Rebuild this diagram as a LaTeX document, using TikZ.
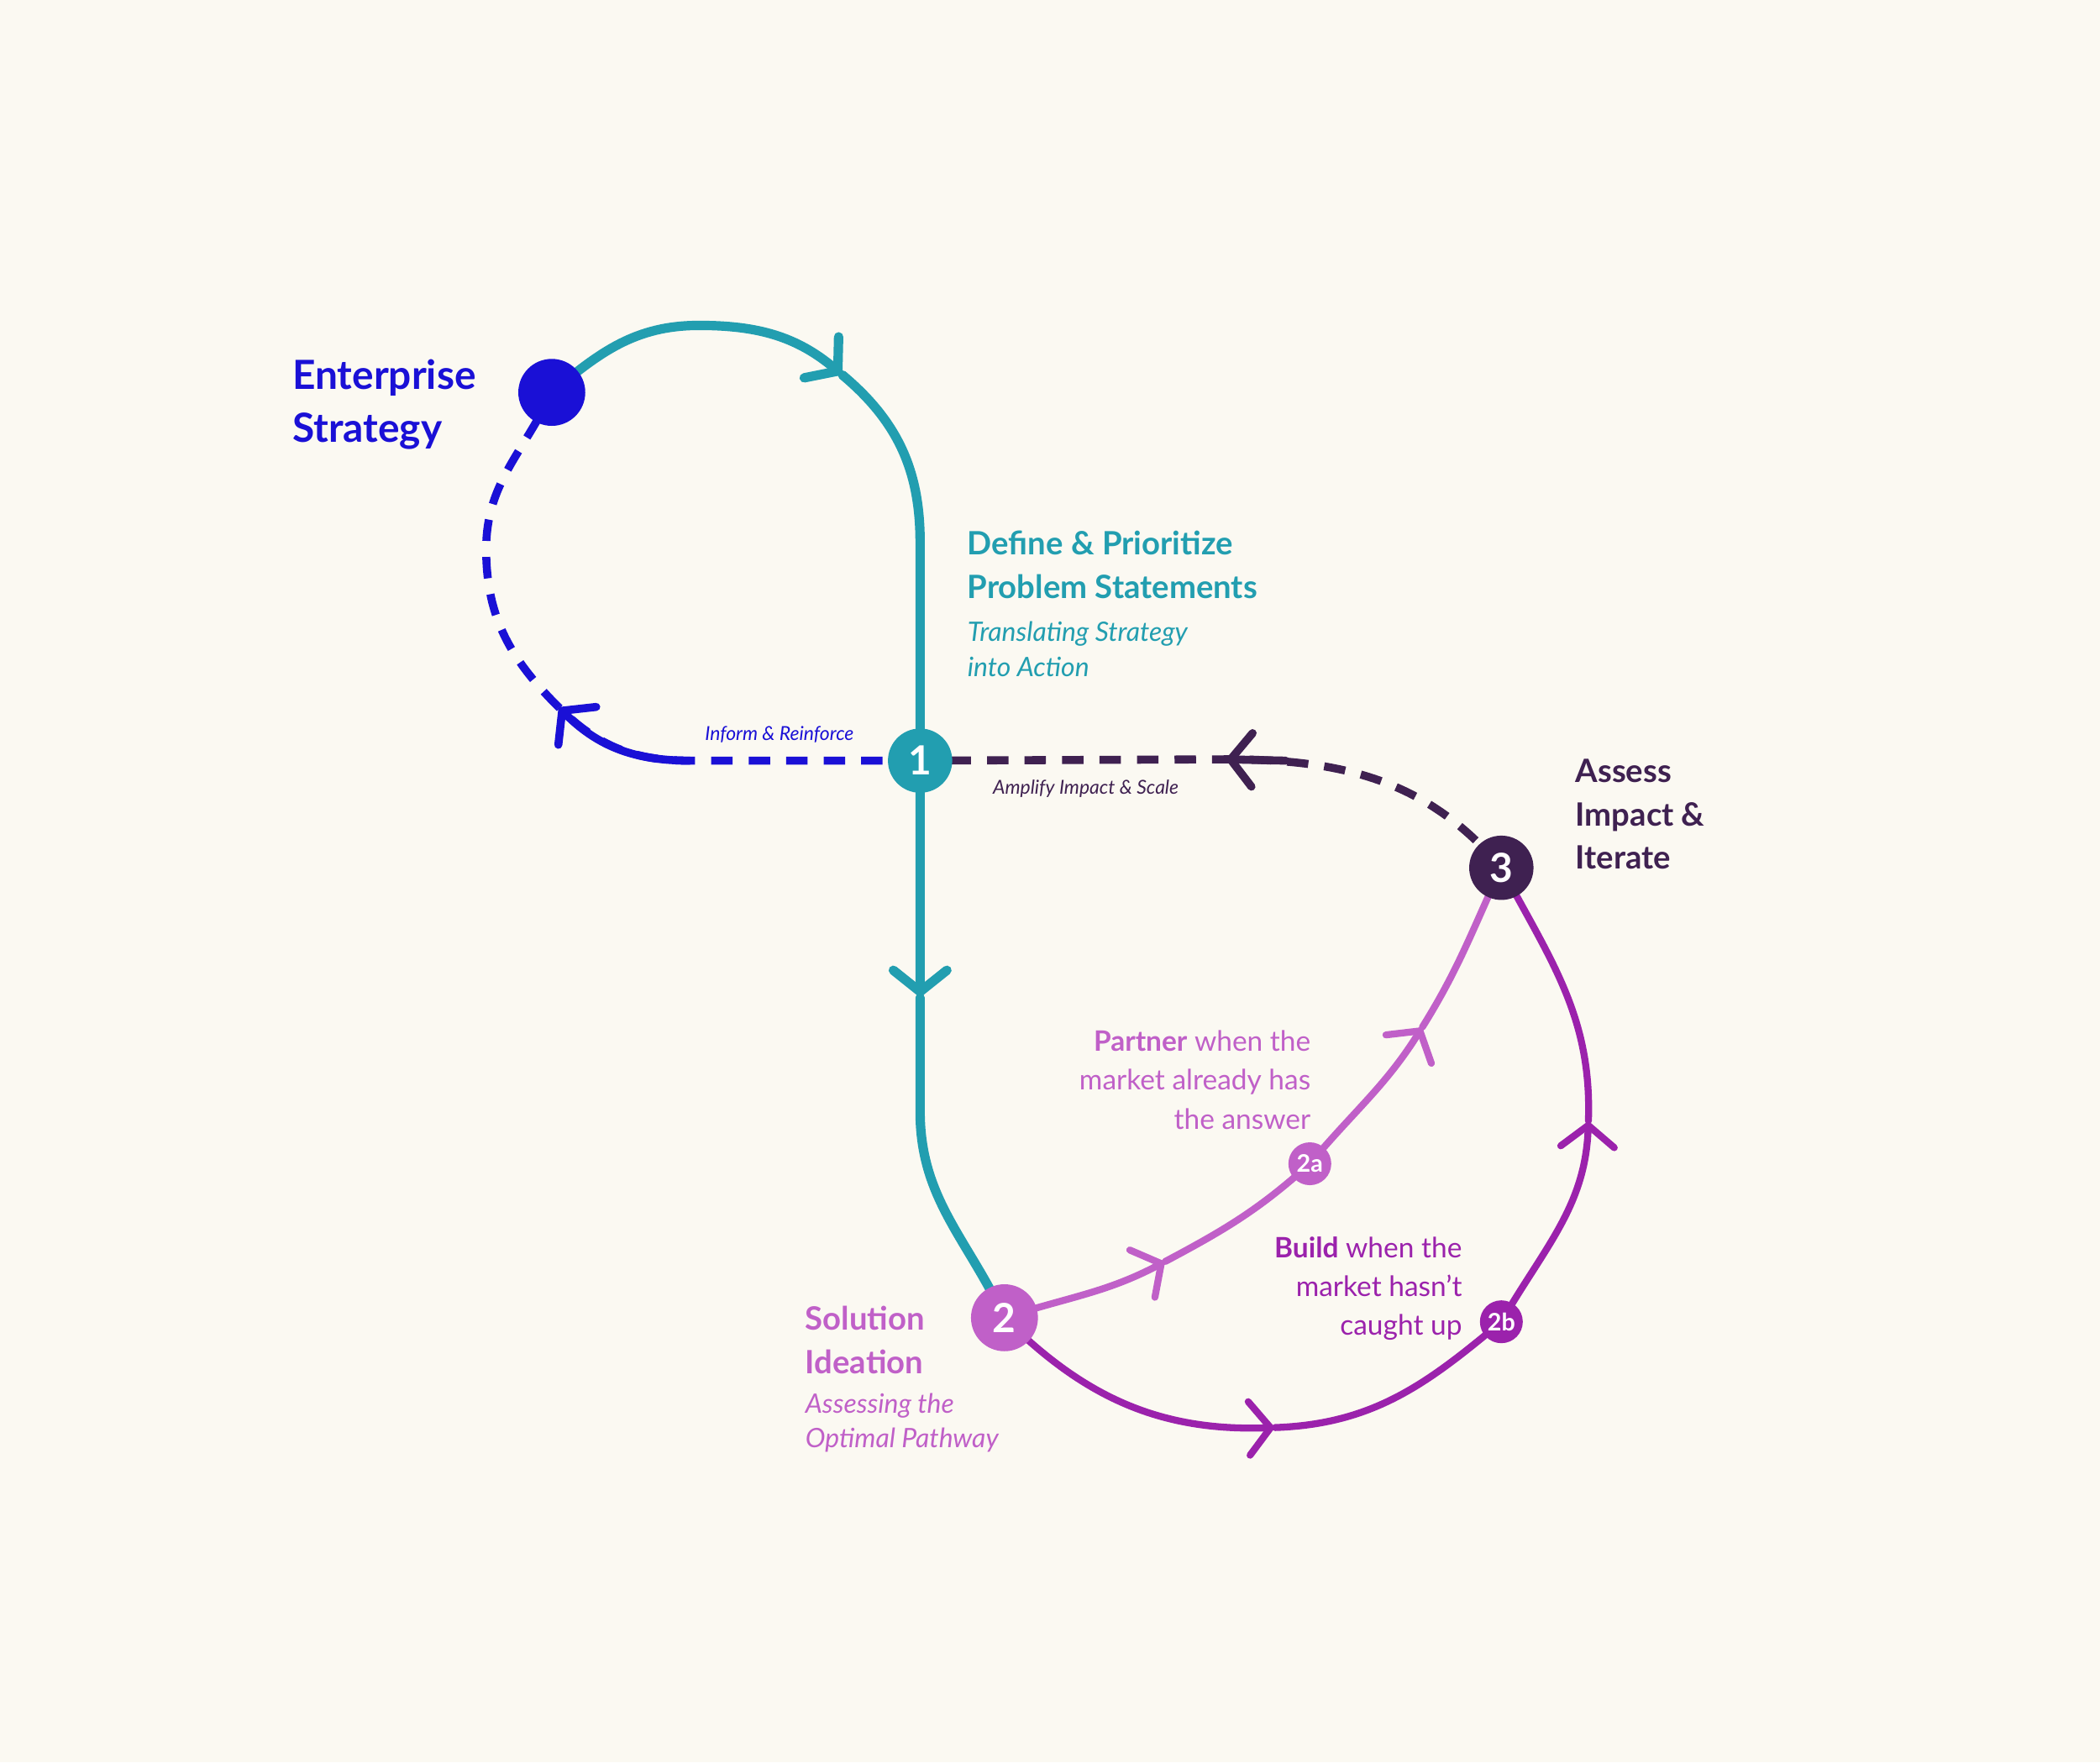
\documentclass[tikz,border=0pt]{standalone}
\usepackage{fontspec}
\setmainfont{Lato}
\usetikzlibrary{arrows.meta}
\definecolor{bg}{HTML}{FBF9F2}
\definecolor{teal}{HTML}{229EB0}
\definecolor{eblue}{HTML}{1A10D6}
\definecolor{dark}{HTML}{3F2151}
\definecolor{lpur}{HTML}{C060C8}
\definecolor{mag}{HTML}{9B22AC}
\tikzset{
  dot/.style={circle,inner sep=0pt,text=white,font=\bfseries},
  chev/.style={-{Straight Barb[length=8pt,width=20pt,line cap=round]}},
  tl/.style={inner sep=0pt}
}
\begin{document}
\begin{tikzpicture}[x=0.5pt,y=0.5pt,line cap=round]
\fill[bg] (0,0) rectangle (1568,-1316);
\useasboundingbox (0,0) rectangle (1568,-1316);
\coordinate (es0) at (412,-293);
\coordinate (n10) at (687,-568);
\coordinate (n20) at (750,-984);
\coordinate (n30) at (1121,-648);
\coordinate (a1) at (629,-280);
\coordinate (a2) at (687,-745);
\coordinate (a3) at (417,-528);
\coordinate (a4) at (915,-567);
\coordinate (a5) at (870,-942);
\coordinate (a6) at (1062,-767);
\coordinate (a7) at (952,-1066);
\coordinate (a8) at (1186,-837);
\coordinate (t1) at (687,-405);
\coordinate (t2) at (687,-830);
\coordinate (c1) at (515,-568);
\coordinate (c2) at (363,-410);
% teal
\begin{scope}[teal,line width=3.5pt]
\draw[chev] (es0) to[out=40,in=180] (522,-243) to[out=0,in=140] (a1);
\draw[chev] (a1) to[out=-40,in=90] (t1) -- (a2);
\draw (a2) -- (t2) to[out=-90,in=115] (n20);
\end{scope}
% blue dashed
\begin{scope}[eblue,line width=3pt]
\draw[dash pattern=on 8pt off 6pt,line cap=butt] (n10) -- (c1) to[out=180,in=-45] (a3);
\draw[chev] (c1) to[out=180,in=-45] (a3);
\draw[dash pattern=on 8pt off 6pt,line cap=butt] (a3) to[out=135,in=270] (c2) to[out=90,in=-115] (es0);
\end{scope}
% dark dashed
\begin{scope}[dark,line width=3pt]
\draw[dash pattern=on 8pt off 6pt,line cap=butt] (n30) to[out=130,in=0] (a4) -- (n10);
\draw[chev] (960,-568) -- (a4);
\end{scope}
% light purple
\begin{scope}[lpur,line width=2.6pt]
\draw[chev] (n20) to[out=18,in=208] (a5);
\draw (a5) to[out=28,in=222] (978,-869);
\draw[chev] (978,-869) to[out=50,in=238] (a6);
\draw (a6) to[out=58,in=245] (n30);
\end{scope}
% magenta
\begin{scope}[mag,line width=2.6pt]
\draw[chev] (n20) to[out=-45,in=182] (a7);
\draw (a7) to[out=2,in=220] (1121,-987);
\draw[chev] (1121,-987) to[out=60,in=268] (a8);
\draw (a8) to[out=88,in=-62] (n30);
\end{scope}
% nodes
\node[dot,fill=eblue,minimum size=25pt] (es) at (es0) {};
\node[dot,fill=teal,minimum size=24pt,font=\bfseries\fontsize{15}{15}\selectfont] (n1) at (n10) {1};
\node[dot,fill=lpur,minimum size=25pt,font=\bfseries\fontsize{15}{15}\selectfont] (n2) at (n20) {2};
\node[dot,fill=dark,minimum size=24pt,font=\bfseries\fontsize{15}{15}\selectfont] (n3) at (n30) {3};
\node[dot,fill=lpur,minimum size=16pt,font=\bfseries\fontsize{9}{9}\selectfont] (n2a) at (978,-869) {2a};
\node[dot,fill=mag,minimum size=16pt,font=\bfseries\fontsize{9}{9}\selectfont] (n2b) at (1121,-987) {2b};
% texts
\begin{scope}[every node/.style={tl,anchor=base west}]
\node[eblue,font=\bfseries\fontsize{15}{15}\selectfont] (e1) at (218,-291) {Enterprise};
\node[eblue,font=\bfseries\fontsize{15}{15}\selectfont] (e2) at (218,-330) {Strategy};
\node[teal,font=\bfseries\fontsize{12}{12}\selectfont] (d1) at (722,-414) {Define \& Prioritize};
\node[teal,font=\bfseries\fontsize{12}{12}\selectfont] (d2) at (722,-447) {Problem Statements};
\node[teal,font=\itshape\fontsize{10}{10}\selectfont] (d3) at (722,-479) {Translating Strategy};
\node[teal,font=\itshape\fontsize{10}{10}\selectfont] (d4) at (722,-505) {into Action};
\node[eblue,font=\itshape\fontsize{7.2}{7.2}\selectfont] (ir) at (526,-553) {Inform \& Reinforce};
\node[dark,font=\itshape\fontsize{7.2}{7.2}\selectfont] (am) at (741,-593) {Amplify Impact \& Scale};
\node[dark,font=\bfseries\fontsize{12}{12}\selectfont] (s1) at (1176,-584) {Assess};
\node[dark,font=\bfseries\fontsize{12}{12}\selectfont] (s2) at (1176,-617) {Impact \&};
\node[dark,font=\bfseries\fontsize{12}{12}\selectfont] (s3) at (1176,-649) {Iterate};
\node[lpur,font=\bfseries\fontsize{12}{12}\selectfont] (o1) at (601,-993) {Solution};
\node[lpur,font=\bfseries\fontsize{12}{12}\selectfont] (o2) at (601,-1026) {Ideation};
\node[lpur,font=\itshape\fontsize{10}{10}\selectfont] (o3) at (601,-1055) {Assessing the};
\node[lpur,font=\itshape\fontsize{10}{10}\selectfont] (o4) at (601,-1081) {Optimal Pathway};
\end{scope}
\begin{scope}[every node/.style={tl,anchor=base east,font=\fontsize{10.5}{10.5}\selectfont}]
\node[lpur] (p1) at (979,-785) {\textbf{Partner} when the};
\node[lpur] (p2) at (979,-814) {market already has};
\node[lpur] (p3) at (979,-843) {the answer};
\node[mag] (b1) at (1092,-939) {\textbf{Build} when the};
\node[mag] (b2) at (1092,-968) {market hasn’t};
\node[mag] (b3) at (1092,-997) {caught up};
\end{scope}
\end{tikzpicture}
\end{document}
